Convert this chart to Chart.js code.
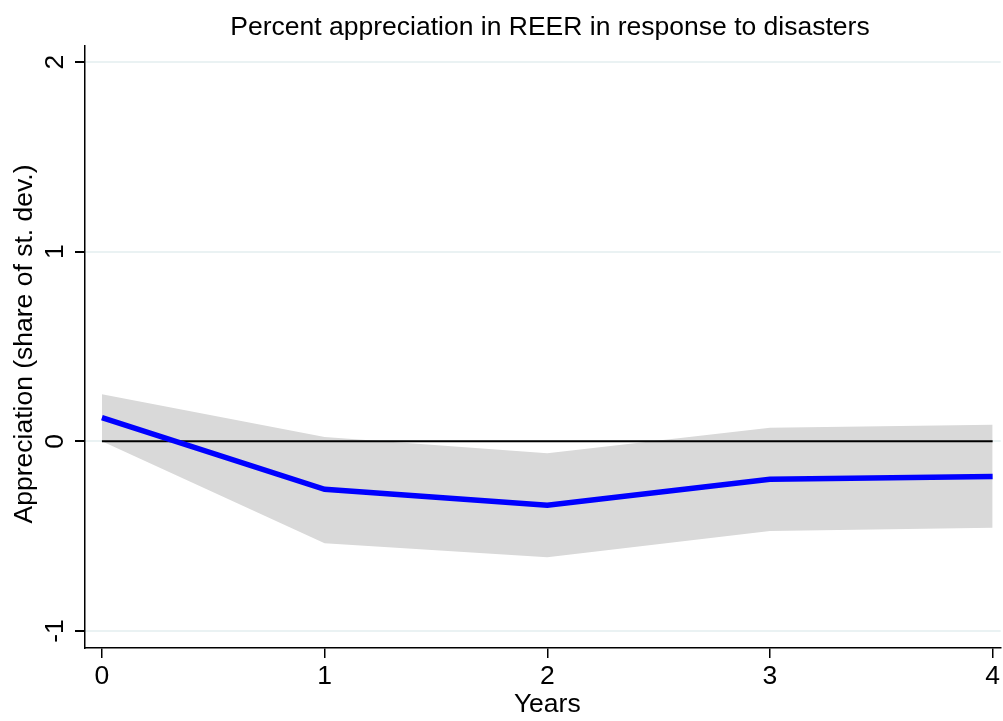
<!DOCTYPE html>
<html>
<head>
<meta charset="utf-8">
<script src="https://cdn.jsdelivr.net/npm/chart.js@4.4.0/dist/chart.umd.min.js"></script>
<style>
  html, body { margin: 0; padding: 0; background: #fff; }
  #wrap { width: 1003px; height: 721px; }
</style>
</head>
<body>
<div id="wrap"><canvas id="irfChart" width="1003" height="721"></canvas></div>
<script>
// Data
const years = [0, 1, 2, 3, 4];
const response = [0.125, -0.253, -0.337, -0.200, -0.186];
const upperCI = [0.248, 0.023, -0.063, 0.072, 0.087];
const lowerCI = [0.0, -0.537, -0.611, -0.473, -0.456];
const zeroLine = [0, 0, 0, 0, 0];
const yTicks = [-1, 0, 1, 2];

const chartTitle = "Percent appreciation in REER in response to disasters";
const yTitle = "Appreciation (share of st. dev.)";
const xTitle = "Years";

const FONT = "'Liberation Sans', Arial, Helvetica, sans-serif";
const FONT_SIZE = 26.5;

function toPoints(vals) {
    return years.map((x, i) => ({ x: x, y: vals[i] }));
}

// Draw title, axis titles and the rotated y tick labels
const textPlugin = {
    id: "textPlugin",
    afterDraw(chart) {
        const ctx = chart.ctx;
        const area = chart.chartArea;
        const yScale = chart.scales.y;
        const xScale = chart.scales.x;
        ctx.save();
        ctx.fillStyle = "#000";
        ctx.textAlign = "center";
        ctx.textBaseline = "middle";

        ctx.font = FONT_SIZE + "px " + FONT;
        ctx.fillText(chartTitle, 550, 28);

        ctx.fillText(xTitle, xScale.getPixelForValue(2), 705);

        ctx.save();
        ctx.translate(25, 344);
        ctx.rotate(-Math.PI / 2);
        ctx.fillText(yTitle, 0, 0);
        ctx.restore();

        yTicks.forEach((v) => {
            const py = yScale.getPixelForValue(v);
            ctx.save();
            ctx.translate(56, py);
            ctx.rotate(-Math.PI / 2);
            ctx.fillText(String(v), 0, 0);
            ctx.restore();
        });
        ctx.restore();
    }
};

const ctx = document.getElementById("irfChart").getContext("2d");

new Chart(ctx, {
    type: "line",
    data: {
        datasets: [
            {
                label: "upper",
                data: toPoints(upperCI),
                borderWidth: 0,
                pointRadius: 0,
                backgroundColor: "#d9d9d9",
                fill: "+1",
                order: 3
            },
            {
                label: "lower",
                data: toPoints(lowerCI),
                borderWidth: 0,
                pointRadius: 0,
                fill: false,
                order: 3
            },
            {
                label: "zero",
                data: toPoints(zeroLine),
                borderColor: "#000",
                borderWidth: 2,
                pointRadius: 0,
                fill: false,
                order: 2
            },
            {
                label: "response",
                data: toPoints(response),
                borderColor: "#0000ff",
                borderWidth: 5.5,
                pointRadius: 0,
                fill: false,
                order: 1
            }
        ]
    },
    options: {
        responsive: false,
        animation: false,
        layout: { padding: { top: 46, right: 0, left: 0, bottom: 0 } },
        plugins: {
            legend: { display: false },
            tooltip: { enabled: false },
            title: { display: false }
        },
        scales: {
            x: {
                type: "linear",
                min: -0.076,
                max: 4.036,
                afterFit(scale) { scale.height = 73; },
                afterBuildTicks(scale) {
                    scale.ticks = years.map((v) => ({ value: v }));
                },
                border: { color: "#000", width: 1.5 },
                grid: {
                    drawOnChartArea: false,
                    tickColor: "#000",
                    tickLength: 10,
                    lineWidth: 1.5
                },
                ticks: {
                    color: "#000",
                    font: { family: FONT, size: FONT_SIZE },
                    padding: 3,
                    maxRotation: 0
                }
            },
            y: {
                min: -1.09,
                max: 2.085,
                afterFit(scale) { scale.width = 85; },
                afterBuildTicks(scale) {
                    scale.ticks = yTicks.map((v) => ({ value: v }));
                },
                border: { color: "#000", width: 1.5 },
                grid: {
                    color: "#eaf2f3",
                    lineWidth: 2,
                    tickColor: "#000",
                    tickLength: 10
                },
                ticks: { display: false }
            }
        }
    },
    plugins: [textPlugin]
});
</script>
</body>
</html>
